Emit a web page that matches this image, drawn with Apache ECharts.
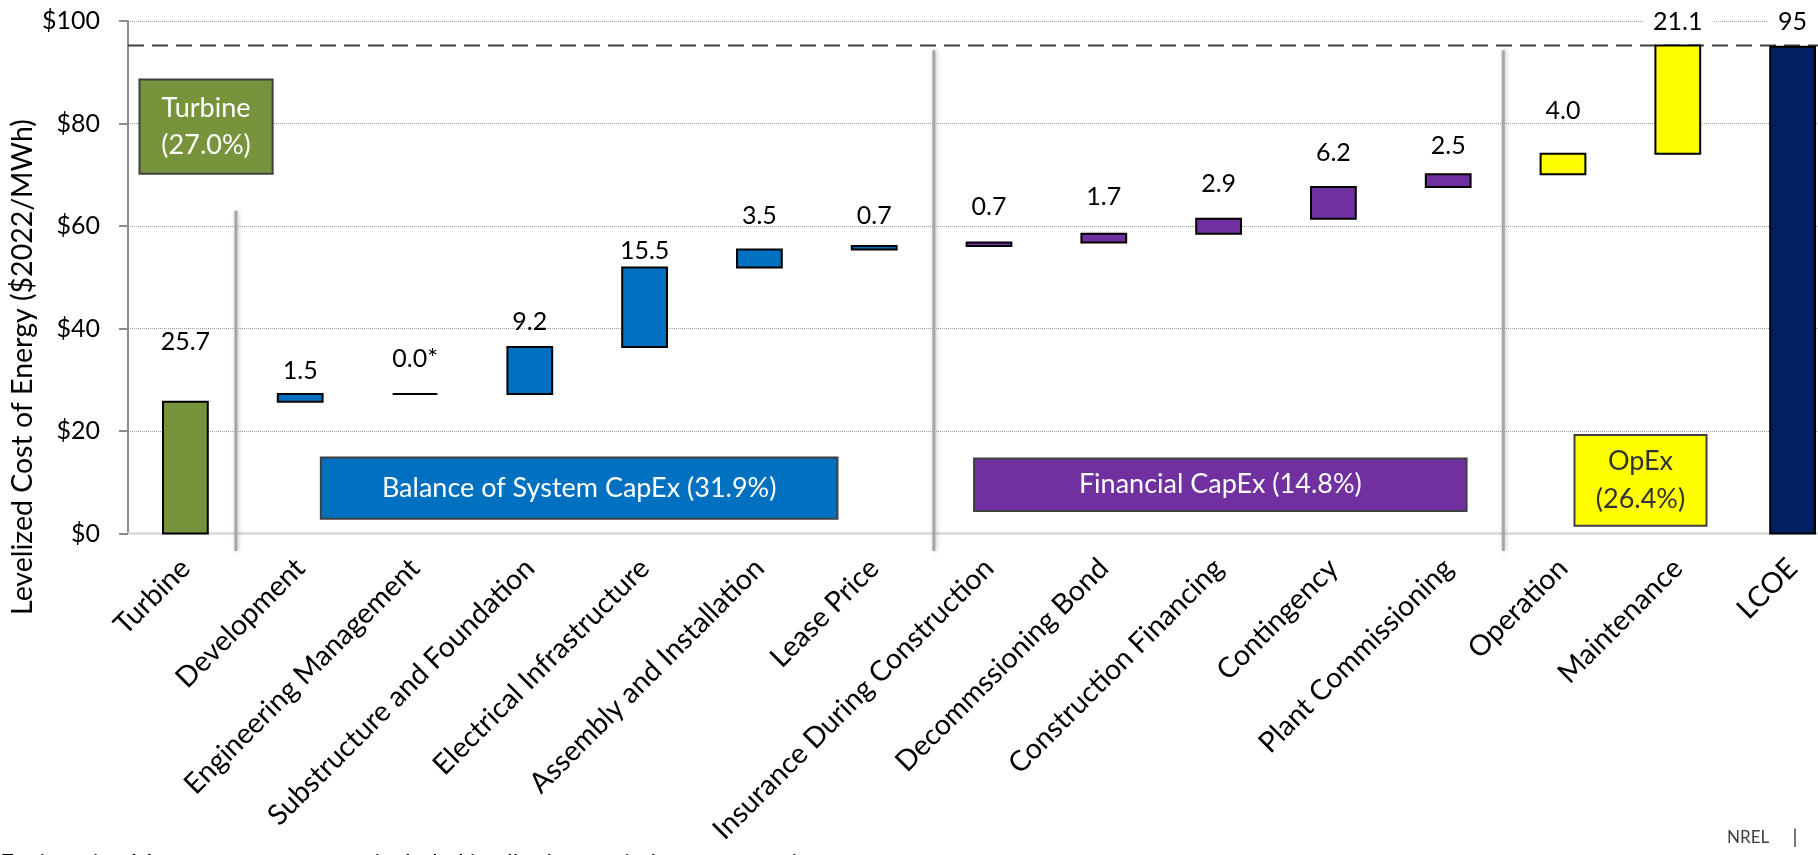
<!DOCTYPE html>
<html>
<head>
<meta charset="utf-8">
<script src="https://cdn.jsdelivr.net/npm/echarts@6/dist/echarts.min.js"></script>
<style>
  html, body { margin: 0; padding: 0; background: #ffffff; }
  #chart { width: 1818px; height: 855px; }
</style>
</head>
<body>
<div id="chart"></div>
<script>
// ---- data ---------------------------------------------------------------
const categories = [
  'Turbine', 'Development', 'Engineering Management', 'Substructure and Foundation',
  'Electrical Infrastructure', 'Assembly and Installation', 'Lease Price',
  'Insurance During Construction', 'Decommssioning Bond', 'Construction Financing',
  'Contingency', 'Plant Commissioning', 'Operation', 'Maintenance', 'LCOE'
];
// cost components, $2022/MWh
const costs = [25.7, 1.5, 0.0, 9.2, 15.5, 3.5, 0.7, 0.7, 1.7, 2.9, 6.2, 2.5, 4.0, 21.1];
const lcoe = 95;
// cost group of each category
const groupOfCategory = ['turbine', 'bos', 'bos', 'bos', 'bos', 'bos', 'bos',
  'fin', 'fin', 'fin', 'fin', 'fin', 'opex', 'opex', 'total'];
// components marked with a footnote
const footnoted = ['Engineering Management'];
const groupNames = {
  turbine: 'Turbine\n(27.0%)',
  bos: 'Balance of System CapEx (31.9%)',
  fin: 'Financial CapEx (14.8%)',
  opex: 'OpEx\n(26.4%)'
};
const yTicks = [0, 20, 40, 60, 80, 100];
const footnoteText = '*Engineering Management costs are included in all other capital cost categories';

// ---- styling & layout ---------------------------------------------------
const FONT = 'Lato, "Open Sans", sans-serif';
const FS = 25;
const colors = { turbine: '#77933C', bos: '#0070C0', fin: '#7030A0', opex: '#FFFF00', total: '#002060' };
const boxText = { turbine: '#ffffff', bos: '#ffffff', fin: '#ffffff', opex: '#333333' };
// value-label height above each bar top ($/MWh)
const labelLift = [11.7, 4.6, 6.8, 4.9, 3.3, 6.5, 5.8, 7.0, 7.2, 6.8, 6.6, 5.5, 8.4, 4.6, 4.8];
// group caption boxes: [x0, x1, y0, y1] in category-index / $ units
const boxLayout = {
  turbine: [-0.40, 0.76, 70.2, 88.6],
  bos: [1.18, 5.68, 2.9, 14.85],
  fin: [6.87, 11.16, 4.4, 14.65],
  opex: [12.10, 13.25, 1.5, 19.2]
};
const boxLineHeight = { turbine: 37, bos: 30, fin: 30, opex: 38 };
// group separators: [x, yBottom, yTop]
const separators = [[0.44, -3.4, 63], [6.52, -3.4, 94.3], [11.48, -3.4, 94.3]];

// ---- waterfall geometry from the cost components ------------------------
const barData = [];
let running = 0;
costs.forEach((c, i) => {
  barData.push([i, running, running + c]);
  running += c;
});
const cumulativeTotal = running;
barData.push([costs.length, 0, lcoe]);

const valueText = barData.map((d, i) => {
  const v = d[2] - d[1];
  if (categories[i] === 'LCOE') return String(Math.round(v));
  return v.toFixed(1) + (footnoted.includes(categories[i]) ? '*' : '');
});

const BAR_RATIO = 0.39;

function renderBar(params, api) {
  const i = api.value(0), lo = api.value(1), hi = api.value(2);
  const top = api.coord([i, hi]);
  const bot = api.coord([i, lo]);
  const w = api.size([1, 0])[0] * BAR_RATIO;
  const lab = api.coord([i, hi + labelLift[i]]);
  const onTopLine = hi + labelLift[i] > 97;
  return {
    type: 'group',
    children: [
      {
        type: 'rect',
        shape: { x: top[0] - w / 2, y: top[1], width: w, height: bot[1] - top[1] },
        style: { fill: colors[groupOfCategory[i]], stroke: '#000000', lineWidth: 2 }
      },
      {
        type: 'text',
        x: lab[0], y: lab[1],
        style: {
          text: valueText[i], fill: '#000000', fontSize: FS, fontFamily: FONT,
          align: 'center', verticalAlign: 'middle',
          backgroundColor: onTopLine ? '#ffffff' : 'transparent',
          padding: onTopLine ? [0, 10] : 0
        }
      }
    ]
  };
}

function renderSeparator(params, api) {
  const x = api.value(0);
  const p0 = api.coord([x, api.value(1)]);
  const p1 = api.coord([x, api.value(2)]);
  return {
    type: 'line',
    shape: { x1: p0[0], y1: p0[1], x2: p1[0], y2: p1[1] },
    style: { stroke: '#A6A6A6', lineWidth: 3, shadowBlur: 4, shadowColor: 'rgba(0,0,0,0.25)', shadowOffsetX: 1 }
  };
}

function renderTotalLine(params, api) {
  const v = api.value(0);
  const p0 = api.coord([-0.5, v]);
  const p1 = api.coord([14.5, v]);
  return {
    type: 'line',
    shape: { x1: p0[0], y1: p0[1], x2: p1[0], y2: p1[1] },
    style: { stroke: '#404040', lineWidth: 2, lineDash: [16, 8] }
  };
}

const boxKeys = Object.keys(boxLayout);
function renderBox(params, api) {
  const key = boxKeys[params.dataIndex];
  const [x0, x1, y0, y1] = boxLayout[key];
  const a = api.coord([x0, y1]);
  const b = api.coord([x1, y0]);
  return {
    type: 'group',
    children: [
      {
        type: 'rect',
        shape: { x: a[0], y: a[1], width: b[0] - a[0], height: b[1] - a[1] },
        style: { fill: colors[key], stroke: '#404040', lineWidth: 2 }
      },
      {
        type: 'text',
        x: (a[0] + b[0]) / 2, y: (a[1] + b[1]) / 2,
        style: {
          text: groupNames[key], fill: boxText[key], fontSize: 27, fontFamily: FONT,
          align: 'center', verticalAlign: 'middle', lineHeight: boxLineHeight[key]
        }
      }
    ]
  };
}

const chart = echarts.init(document.getElementById('chart'), null, { renderer: 'canvas' });
chart.setOption({
  animation: false,
  backgroundColor: '#ffffff',
  // the plot runs on past the right edge of the canvas
  grid: {
    left: 128, top: 21, width: 1722, height: 512.5,
    containLabel: false, outerBoundsMode: 'none'
  },
  xAxis: [
    {
      type: 'category',
      data: categories,
      axisLine: { show: true, onZero: false, lineStyle: { color: '#D9D9D9', width: 2.5 } },
      axisTick: { show: false },
      axisLabel: {
        interval: 0, rotate: 45, margin: 30,
        color: '#000000', fontSize: 28.5, fontFamily: FONT
      },
      splitLine: { show: false }
    },
    { type: 'value', min: -0.5, max: categories.length - 0.5, show: false }
  ],
  yAxis: {
    type: 'value',
    min: yTicks[0], max: yTicks[yTicks.length - 1], interval: yTicks[1] - yTicks[0],
    axisLine: { show: true, onZero: false, lineStyle: { color: '#8C8C8C', width: 2 } },
    axisTick: { show: true, length: 9, lineStyle: { color: '#8C8C8C', width: 2 } },
    axisLabel: {
      margin: 28, color: '#000000', fontSize: FS, fontFamily: FONT,
      formatter: v => '$' + v
    },
    splitLine: { show: true, lineStyle: { color: '#A0A0A0', width: 1, type: [1, 1] } }
  },
  series: [
    {
      name: 'separators', type: 'custom', xAxisIndex: 1, z: 1,
      renderItem: renderSeparator, data: separators, silent: true
    },
    {
      name: 'total', type: 'custom', xAxisIndex: 1, z: 2,
      renderItem: renderTotalLine, data: [[cumulativeTotal]], silent: true
    },
    {
      name: 'groups', type: 'custom', xAxisIndex: 1, z: 3,
      renderItem: renderBox, data: boxKeys.map((k, i) => [i]), silent: true
    },
    {
      name: 'costs', type: 'custom', xAxisIndex: 0, z: 4,
      renderItem: renderBar, data: barData,
      encode: { x: 0, y: [1, 2] }
    }
  ],
  graphic: [
    {
      type: 'text', x: 23, y: 367, rotation: Math.PI / 2,
      style: {
        text: 'Levelized Cost of Energy ($2022/MWh)', fill: '#000000',
        fontSize: 28.5, fontFamily: FONT, align: 'center', verticalAlign: 'middle'
      }
    },
    {
      type: 'text', x: 1727, y: 838,
      style: { text: 'NREL', fill: '#404040', fontSize: 17, fontFamily: FONT, align: 'left', verticalAlign: 'middle' }
    },
    {
      type: 'text', x: 1795, y: 838,
      style: { text: '|', fill: '#404040', fontSize: 20, fontFamily: FONT, align: 'center', verticalAlign: 'middle' }
    },
    {
      type: 'text', x: -10, y: 851,
      style: { text: footnoteText, fill: '#000000', fontSize: 24, fontFamily: FONT, align: 'left', verticalAlign: 'top' }
    }
  ]
});
</script>
</body>
</html>
